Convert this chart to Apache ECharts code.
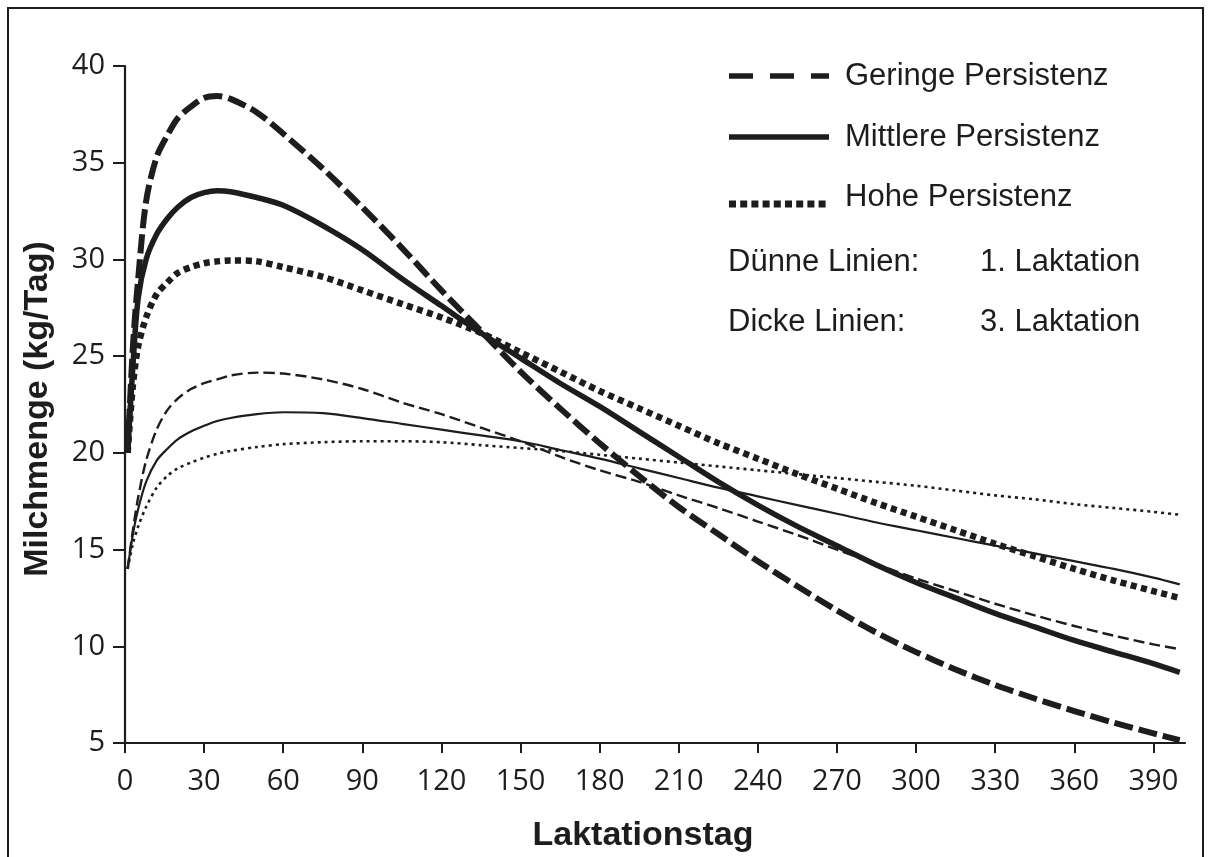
<!DOCTYPE html>
<html><head><meta charset="utf-8">
<script src="https://cdn.jsdelivr.net/npm/echarts@6/dist/echarts.min.js"></script>
<style>html,body{margin:0;padding:0;background:#fff}#c{width:1210px;height:857px}</style>
</head><body><div id="c"></div><script>
// Laktationstag (x values)
const days = [1,3,5,8,12,16,20,25,30,35,40,50,60,75,90,105,120,135,150,165,180,195,210,225,240,255,270,285,300,315,330,345,360,375,390,400];
// 3. Laktation (dicke Linien)
const gering3  = [20,25.5,29,33,35.3,36.4,37.3,37.9,38.35,38.45,38.3,37.6,36.5,34.7,32.7,30.6,28.4,26.3,24.2,22.3,20.5,18.8,17.2,15.8,14.4,13.1,11.85,10.7,9.7,8.8,8.0,7.3,6.65,6.05,5.5,5.15];
const mittel3  = [20,24.5,28.0,30.0,31.3,32.1,32.7,33.2,33.45,33.55,33.5,33.2,32.8,31.75,30.5,29.0,27.6,26.2,24.9,23.6,22.4,21.1,19.8,18.5,17.3,16.2,15.2,14.2,13.3,12.5,11.7,11.0,10.3,9.7,9.1,8.65];
const hoch3    = [20,23.5,25.5,27.0,28.2,28.8,29.3,29.6,29.8,29.9,29.95,29.9,29.6,29.1,28.4,27.7,27.0,26.2,25.2,24.2,23.2,22.3,21.4,20.5,19.7,18.9,18.15,17.4,16.7,16.0,15.3,14.65,14.0,13.4,12.85,12.5];
// 1. Laktation (dünne Linien)
const gering1  = [14,16.0,17.7,19.6,21.2,22.2,22.8,23.3,23.6,23.8,24.0,24.15,24.1,23.8,23.3,22.6,22.0,21.3,20.6,19.8,19.1,18.5,17.8,17.15,16.45,15.75,15.0,14.25,13.5,12.85,12.2,11.6,11.05,10.55,10.1,9.85];
const mittel1  = [14,15.8,17.1,18.5,19.6,20.2,20.7,21.1,21.4,21.65,21.8,22.0,22.1,22.05,21.8,21.5,21.2,20.9,20.6,20.15,19.7,19.2,18.7,18.2,17.75,17.3,16.85,16.4,16.0,15.6,15.2,14.8,14.4,14.0,13.55,13.2];
const hoch1    = [14,15.3,16.2,17.2,18.2,18.8,19.2,19.5,19.75,19.95,20.1,20.3,20.45,20.55,20.6,20.6,20.55,20.4,20.25,20.1,19.9,19.7,19.5,19.3,19.1,18.9,18.7,18.5,18.3,18.05,17.8,17.6,17.35,17.15,16.95,16.8];
// tick labels
const xTicks = [0,30,60,90,120,150,180,210,240,270,300,330,360,390];
const yTicks = [5,10,15,20,25,30,35,40];
const legendNames = ['Geringe Persistenz','Mittlere Persistenz','Hohe Persistenz'];
const noteLabels = ['Dünne Linien:','Dicke Linien:'];
const noteValues = ['1. Laktation','3. Laktation'];
const xTitle = 'Laktationstag';
const yTitle = 'Milchmenge (kg/Tag)';

const ink = '#1e1c1d';
const pts = arr => days.map((d,i)=>[d, arr[i]]);
function line(name, arr, width, dash){
  return {name, type:'line', data: pts(arr), showSymbol:false, symbol:'none', smooth:0.3,
    lineStyle:{color:ink, width, type:dash, cap:'butt', join:'round'}, animation:false, silent:true};
}
const chart = echarts.init(document.getElementById('c'), null, {renderer:'canvas'});
const lf = 'Liberation Sans, Arial, sans-serif';
const legendY = [76,137,197];
const tickStyle = {color:ink, fontFamily:'Open Sans', fontSize:29};
chart.setOption({
  backgroundColor:'#fff',
  animation:false,
  grid:{left:125, right:25, top:66, bottom:114, containLabel:false},
  xAxis:{type:'value', min:0, max:402,
    axisLine:{show:true, lineStyle:{color:ink, width:2.2}},
    axisTick:{show:true, length:10, lineStyle:{color:ink, width:2}, customValues: xTicks},
    axisLabel:Object.assign({margin:24, customValues: xTicks}, tickStyle),
    splitLine:{show:false}},
  yAxis:{type:'value', min:yTicks[0], max:yTicks[yTicks.length-1], interval:5,
    axisLine:{show:true, lineStyle:{color:ink, width:2.2}},
    axisTick:{show:true, length:12, lineStyle:{color:ink, width:2}},
    axisLabel:Object.assign({margin:20}, tickStyle),
    splitLine:{show:false}},
  series:[
    line('Geringe Persistenz 1', gering1, 2.4, [11,5]),
    line('Mittlere Persistenz 1', mittel1, 2.2, 'solid'),
    line('Hohe Persistenz 1', hoch1, 2.6, [3,4]),
    line('Geringe Persistenz 3', gering3, 6, [19,6]),
    line('Mittlere Persistenz 3', mittel3, 5.5, 'solid'),
    line('Hohe Persistenz 3', hoch3, 6.5, [6,4.5])
  ],
  graphic:[
    {type:'rect', shape:{x:8, y:8, width:1195, height:900}, style:{fill:null, stroke:ink, lineWidth:2}, silent:true},
    {type:'text', x:643, y:836, style:{text:xTitle, font:'bold 34px '+lf, fill:ink, textAlign:'center', textVerticalAlign:'middle'}},
    {type:'text', x:38, y:409, rotation:Math.PI/2, style:{text:yTitle, font:'bold 34px '+lf, fill:ink, textAlign:'center', textVerticalAlign:'middle'}},
    // legend samples
    {type:'line', shape:{x1:729, y1:legendY[0], x2:829, y2:legendY[0]}, style:{stroke:ink, lineWidth:5.5, lineDash:[24,17]}},
    {type:'line', shape:{x1:729, y1:legendY[1], x2:829, y2:legendY[1]}, style:{stroke:ink, lineWidth:5.5}},
    {type:'line', shape:{x1:729, y1:legendY[2]+7, x2:829, y2:legendY[2]+7}, style:{stroke:ink, lineWidth:7, lineDash:[7,4.2]}},
    {type:'text', x:845, y:legendY[0], style:{text:legendNames[0], font:'31px '+lf, fill:ink, textVerticalAlign:'middle'}},
    {type:'text', x:845, y:legendY[1], style:{text:legendNames[1], font:'31px '+lf, fill:ink, textVerticalAlign:'middle'}},
    {type:'text', x:845, y:legendY[2], style:{text:legendNames[2], font:'31px '+lf, fill:ink, textVerticalAlign:'middle'}},
    {type:'text', x:728, y:262, style:{text:noteLabels[0], font:'31px '+lf, fill:ink, textVerticalAlign:'middle'}},
    {type:'text', x:728, y:322, style:{text:noteLabels[1], font:'31px '+lf, fill:ink, textVerticalAlign:'middle'}},
    {type:'text', x:980, y:262, style:{text:noteValues[0], font:'31px '+lf, fill:ink, textVerticalAlign:'middle'}},
    {type:'text', x:980, y:322, style:{text:noteValues[1], font:'31px '+lf, fill:ink, textVerticalAlign:'middle'}}
  ]
});
</script></body></html>
